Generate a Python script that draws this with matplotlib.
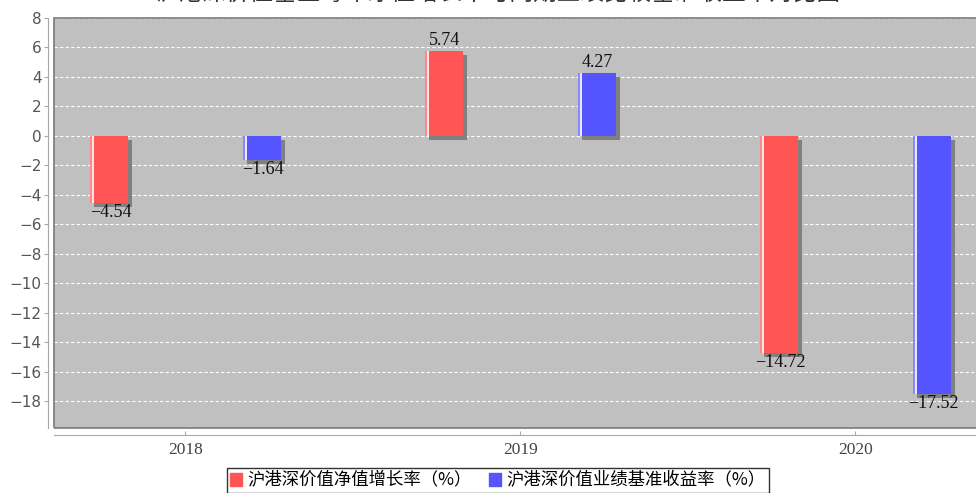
import matplotlib
matplotlib.use('Agg')
import matplotlib.pyplot as plt
from matplotlib.patches import Patch, Rectangle
from matplotlib.transforms import ScaledTranslation
import numpy as np

years = ['2018', '2019', '2020']
nav_growth = [-4.54, 5.74, -14.72]
benchmark = [-1.64, 4.27, -17.52]
series_names = ['沪港深价值净值增长率（%）', '沪港深价值业绩基准收益率（%）']
title = '沪港深价值基金每年净值增长率与同期业绩比较基准收益率对比图'

CJK = ['Noto Sans CJK SC', 'DejaVu Sans']
SERIF = ['Liberation Serif', 'DejaVu Serif']

W, H = 976, 493
fig = plt.figure(figsize=(W / 100, H / 100), dpi=100)
ax = fig.add_axes([54 / W, 1 - 427.7 / H, (990 - 54) / W, (427.7 - 18) / H])
ax.set_facecolor('#C0C0C0')

# axis lines sit a few pixels outside the plot box
for s in ['top', 'right']:
    ax.spines[s].set_visible(False)
ax.spines['left'].set_position(('outward', 4))
ax.spines['bottom'].set_position(('outward', 5))
ax.spines['left'].set_color('#A8A8A8')
ax.spines['bottom'].set_color('#A8A8A8')

x = np.arange(len(years))
bw = 0.115
off = 0.228
shadow = ax.transData + ScaledTranslation(0.04, -0.04, fig.dpi_scale_trans)

for vals, dx, color, light in [(nav_growth, -off, '#FF5555', '#FFE8E8'),
                               (benchmark, off, '#5555FF', '#E8E8FF')]:
    xs = x + dx
    ax.bar(xs, vals, bw, color='#808080', transform=shadow, zorder=2)
    ax.bar(xs, vals, bw, color=color, zorder=3)
    # glossy stripe near the left edge
    ax.bar(xs - bw / 2, vals, bw * 0.06, align='edge', color=light, alpha=0.35, zorder=4)
    ax.bar(xs - bw / 2 + bw * 0.05, vals, bw * 0.07, align='edge', color=light, zorder=4)
    for xi, v in zip(xs, vals):
        txt = f'{v:.2f}'.replace('-', '\u2212')
        if v > 0:
            ax.annotate(txt, (xi, v), xytext=(0, 1.5), textcoords='offset points',
                        ha='center', va='bottom', fontsize=13, family=SERIF, color='#111111')
        else:
            ax.annotate(txt, (xi, v), xytext=(1, -0.5), textcoords='offset points',
                        ha='center', va='top', fontsize=13, family=SERIF, color='#111111')

ax.set_xlim(-(185.5 - 54) / 335, (990 - 185.5) / 335)
ax.set_ylim(-19.8, 8)
ax.set_yticks(range(-18, 9, 2))
ax.set_xticks(x)
ax.set_xticklabels(years, family=SERIF, fontsize=12.5, color='#444444')
for lab in ax.get_yticklabels():
    lab.set_fontsize(11)
    lab.set_color('#555555')
ax.tick_params(axis='y', length=3, pad=2, color='#A8A8A8')
ax.tick_params(axis='x', length=3, direction='in', pad=5, color='#A8A8A8')

ax.yaxis.grid(True, color='white', linestyle=(0, (3, 2)), linewidth=0.8)
ax.set_axisbelow(True)

ax.add_patch(Rectangle((0, 0), 1, 1, transform=ax.transAxes, fill=False,
                       edgecolor='#7A7A7A', linewidth=1.2, zorder=6, clip_on=False))

# title is cropped at the top edge in the source image
fig.text(0.51, 1 - 5 / H, title, ha='center', va='bottom', fontsize=17,
         family=CJK, color='#333333')

handles = [Patch(color='#FF5555'), Patch(color='#5555FF')]
leg = fig.legend(handles, series_names, loc='center', bbox_to_anchor=(498 / W, 1 - 480.5 / H),
                 ncol=2, frameon=True, fancybox=False, edgecolor='black',
                 prop={'family': CJK, 'size': 12.5}, handlelength=0.7, handleheight=0.7,
                 handletextpad=0.3, columnspacing=1.0, borderpad=0.2, borderaxespad=0)
leg.get_frame().set_linewidth(1.0)

fig.savefig('out.png', dpi=100)
